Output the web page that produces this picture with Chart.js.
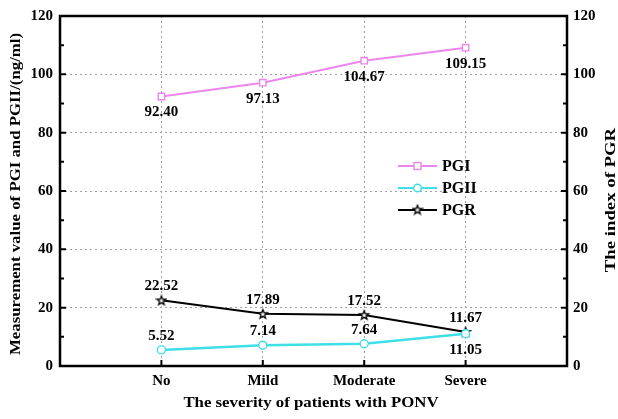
<!DOCTYPE html>
<html>
<head>
<meta charset="utf-8">
<script src="https://cdn.jsdelivr.net/npm/chart.js@4.4.1/dist/chart.umd.min.js"></script>
<style>
  html, body { margin: 0; padding: 0; background: #fff; }
  #wrap { width: 618px; height: 419px; }
</style>
</head>
<body>
<div id="wrap"><canvas id="ponv"></canvas></div>
<script>
var categories = ['No', 'Mild', 'Moderate', 'Severe'];
var pgiValues = [92.40, 97.13, 104.67, 109.15];
var pgiiValues = [5.52, 7.14, 7.64, 11.05];
var pgrValues = [22.52, 17.89, 17.52, 11.67];
var yTicks = [0, 20, 40, 60, 80, 100, 120];

var FONT = '"Liberation Serif", "Times New Roman", serif';

function toPoints(vals) {
    return vals.map((v, i) => ({x: i + 1, y: v}));
}

// open five-point star used as the PGR marker
function makeStar() {
    var c = document.createElement('canvas');
    c.width = 12; c.height = 12;
    var g = c.getContext('2d');
    g.beginPath();
    for (var k = 0; k < 10; k++) {
        var r = k % 2 == 0 ? 4.7 : 2.0;
        var a = -Math.PI / 2 + k * Math.PI / 5;
        var px = 6 + r * Math.cos(a), py = 6.4 + r * Math.sin(a);
        if (k == 0) g.moveTo(px, py); else g.lineTo(px, py);
    }
    g.closePath();
    g.fillStyle = '#fff';
    g.fill();
    g.lineWidth = 1.3;
    g.strokeStyle = '#000';
    g.stroke();
    return c;
}
var starMark = makeStar();

// axis title, stretched along its own direction
function title(ctx, text, x, y, rot, stretch) {
    ctx.save();
    ctx.translate(x, y);
    ctx.rotate(rot);
    ctx.scale(stretch, 1);
    ctx.font = 'bold 15px ' + FONT;
    ctx.fillText(text, 0, 0);
    ctx.restore();
}

// frame, inward tick marks, axis titles, value labels and legend
var decor = {
    id: 'decor',
    afterDraw(chart) {
        var ctx = chart.ctx, a = chart.chartArea;
        var xs = chart.scales.x, ys = chart.scales.y;
        ctx.save();
        ctx.strokeStyle = '#000';
        ctx.lineWidth = 2.5;
        ctx.strokeRect(a.left, a.top, a.right - a.left, a.bottom - a.top);

        ctx.lineWidth = 2;
        ctx.beginPath();
        for (var v = 10; v < 120; v += 10) {
            var py = ys.getPixelForValue(v);
            var len = v % 20 == 0 ? 6 : 4;
            ctx.moveTo(a.left, py); ctx.lineTo(a.left + len, py);
            ctx.moveTo(a.right, py); ctx.lineTo(a.right - len, py);
        }
        for (var i = 1; i <= categories.length; i++) {
            var px = xs.getPixelForValue(i);
            ctx.moveTo(px, a.bottom); ctx.lineTo(px, a.bottom - 6);
        }
        ctx.stroke();

        ctx.fillStyle = '#000';
        ctx.textAlign = 'center';
        ctx.textBaseline = 'middle';
        title(ctx, 'The severity of patients with PONV', 311, 403, 0, 1.12);
        title(ctx, 'Measurement value of PGI and PGII/(ng/ml)', 16, 194, -Math.PI / 2, 1.12);
        title(ctx, 'The index of PGR', 611, 200, -Math.PI / 2, 1.25);

        // value labels
        ctx.font = 'bold 15px ' + FONT;
        chart.data.datasets.forEach((ds, di) => {
            var meta = chart.getDatasetMeta(di);
            meta.data.forEach((pt, j) => {
                var below = ds.labelSide[j] == 'below';
                ctx.fillText(ds.data[j].y.toFixed(2), pt.x, pt.y + (below ? 16 : -14));
            });
        });

        // legend
        var ly = [166, 188, 210];
        chart.data.datasets.forEach((ds, di) => {
            var y = ly[di];
            ctx.strokeStyle = ds.borderColor;
            ctx.lineWidth = 2;
            ctx.beginPath();
            ctx.moveTo(398, y); ctx.lineTo(437, y);
            ctx.stroke();
            if (ds.pointStyle == 'rect') {
                ctx.fillStyle = '#fff';
                ctx.fillRect(414, y - 3.5, 7, 7);
                ctx.lineWidth = 1.4;
                ctx.strokeRect(414, y - 3.5, 7, 7);
            } else if (ds.pointStyle == 'circle') {
                ctx.fillStyle = '#fff';
                ctx.beginPath();
                ctx.arc(417.5, y, 3.8, 0, Math.PI * 2);
                ctx.fill();
                ctx.lineWidth = 1.4;
                ctx.stroke();
            } else {
                ctx.drawImage(starMark, 411.5, y - 6.4);
            }
            ctx.fillStyle = '#000';
            ctx.font = 'bold 16px ' + FONT;
            ctx.textAlign = 'left';
            ctx.fillText(ds.label, 442, y + 1);
            ctx.textAlign = 'center';
        });
        ctx.restore();
    }
};

var tickFont = {family: FONT, size: 15, weight: 'bold'};

new Chart(document.getElementById('ponv'), {
    type: 'line',
    data: {
        datasets: [{
            label: 'PGI',
            data: toPoints(pgiValues),
            yAxisID: 'y',
            borderColor: '#ec86ec',
            backgroundColor: '#fff',
            borderWidth: 2,
            pointStyle: 'rect',
            pointRadius: 4.5,
            pointBorderWidth: 1.4,
            labelSide: ['below', 'below', 'below', 'below']
        }, {
            label: 'PGII',
            data: toPoints(pgiiValues),
            yAxisID: 'y',
            borderColor: '#3fdfe8',
            backgroundColor: '#fff',
            borderWidth: 2.5,
            pointStyle: 'circle',
            pointRadius: 4,
            pointBorderWidth: 1.4,
            labelSide: ['above', 'above', 'above', 'below']
        }, {
            label: 'PGR',
            data: toPoints(pgrValues),
            yAxisID: 'y1',
            borderColor: '#000',
            backgroundColor: '#fff',
            borderWidth: 2,
            pointStyle: starMark,
            labelSide: ['above', 'above', 'above', 'above']
        }]
    },
    options: {
        responsive: true,
        maintainAspectRatio: false,
        animation: false,
        events: [],
        layout: {padding: {top: 14, left: 0, right: 0, bottom: 0}},
        plugins: {legend: {display: false}, tooltip: {enabled: false}},
        scales: {
            x: {
                type: 'linear',
                min: 0,
                max: 5,
                afterBuildTicks: s => { s.ticks = categories.map((c, i) => ({value: i + 1})); },
                afterFit: s => { s.height = 53; },
                ticks: {
                    callback: v => categories[v - 1],
                    font: tickFont,
                    color: '#000',
                    padding: 6,
                    maxRotation: 0
                },
                grid: {color: '#a0a0a0', lineWidth: 1, drawTicks: false},
                border: {display: false, dash: [2, 3]}
            },
            y: {
                position: 'left',
                min: 0,
                max: 120,
                afterBuildTicks: s => { s.ticks = yTicks.map(v => ({value: v})); },
                afterFit: s => { s.width = 60; },
                ticks: {font: tickFont, color: '#000', padding: 7},
                grid: {
                    color: c => (c.tick.value == 0 || c.tick.value == 120) ? 'rgba(0,0,0,0)' : '#a0a0a0',
                    lineWidth: 1,
                    drawTicks: false
                },
                border: {display: false, dash: [2, 3]}
            },
            y1: {
                position: 'right',
                min: 0,
                max: 120,
                afterBuildTicks: s => { s.ticks = yTicks.map(v => ({value: v})); },
                afterFit: s => { s.width = 51; },
                ticks: {font: tickFont, color: '#000', padding: 6},
                grid: {display: false, drawTicks: false},
                border: {display: false}
            }
        }
    },
    plugins: [decor]
});
</script>
</body>
</html>
